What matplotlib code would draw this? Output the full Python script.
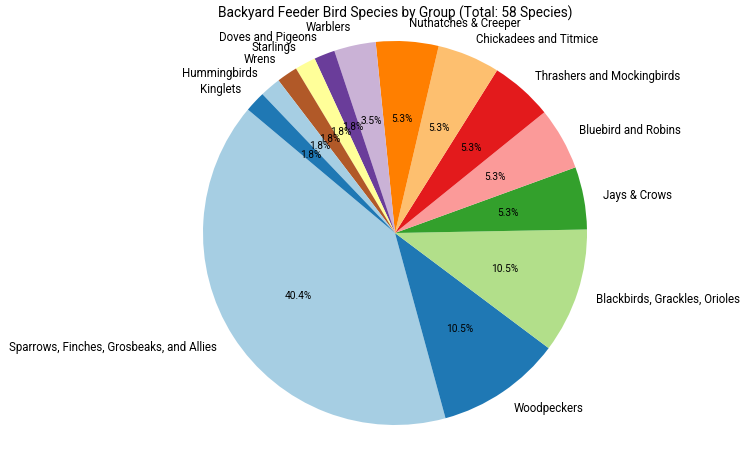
import matplotlib
matplotlib.use('Agg')
import matplotlib.pyplot as plt

plt.rcParams['font.family'] = ['Roboto', 'DejaVu Sans']

# species count per group
groups = [
    'Sparrows, Finches, Grosbeaks, and Allies',
    'Woodpeckers',
    'Blackbirds, Grackles, Orioles',
    'Jays & Crows',
    'Bluebird and Robins',
    'Thrashers and Mockingbirds',
    'Chickadees and Titmice',
    'Nuthatches & Creeper',
    'Warblers',
    'Doves and Pigeons',
    'Starlings',
    'Wrens',
    'Hummingbirds',
    'Kinglets',
]
counts = [23, 6, 6, 3, 3, 3, 3, 3, 2, 1, 1, 1, 1, 1]

colors = [plt.cm.Paired(i % 12) for i in range(len(counts))]

fig = plt.figure(figsize=(7.5, 4.52), dpi=100)
# square axes in pixels: centre (395, 234), radius 192
ax = fig.add_axes([203 / 750, (452 - 426) / 452, 384 / 750, 384 / 452])

wedges, texts, autotexts = ax.pie(counts, labels=groups, colors=colors,
                                  autopct='%1.1f%%', startangle=140,
                                  textprops={'fontsize': 8.3})
for t in autotexts:
    t.set_fontsize(7.3)

ax.set_xlim(-1, 1)
ax.set_ylim(-1, 1)
ax.set_aspect('auto')

fig.text(395 / 750, 1 - 13 / 452, 'Backyard Feeder Bird Species by Group (Total: 58 Species)',
         ha='center', va='center', fontsize=9.8)

fig.savefig('out.png', dpi=100)
